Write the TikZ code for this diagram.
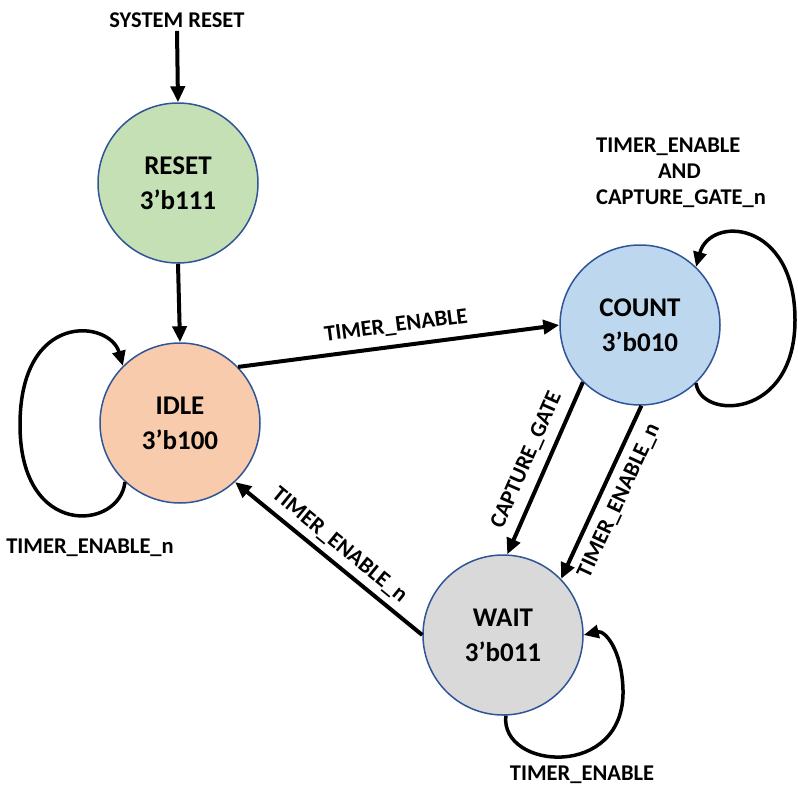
\documentclass[tikz,border=0pt]{standalone}
\usepackage{fontspec}
\setmainfont{Carlito}
\usetikzlibrary{arrows.meta}
\definecolor{stateblue}{HTML}{2F5597}
\definecolor{resetfill}{HTML}{C5E0B4}
\definecolor{idlefill}{HTML}{F8CBAD}
\definecolor{countfill}{HTML}{BDD7EE}
\definecolor{waitfill}{HTML}{D9D9D9}

\begin{document}
\begin{tikzpicture}[x=1pt, y=-1pt, font=\bfseries\fontsize{22.5}{26}\selectfont,
	state/.style={circle,draw=stateblue,line width=1.5pt,minimum size=160pt,inner sep=0pt,align=center,font=\bfseries\fontsize{27}{35}\selectfont},
	trans/.style={line width=4pt,-{Triangle[length=16pt,width=14pt]}},
	translabel/.style={midway,sloped,inner sep=9pt},
	selfloop/.style={line width=3.5pt,-{Triangle[length=15pt,width=13pt]}}]
	\useasboundingbox (0,0) rectangle (798,787);
	\node (sysreset) at (177,20) {SYSTEM RESET};
	\node[state,fill=resetfill] (reset) at (178,183) {RESET\\3’b111};
	\node[state,fill=idlefill] (idle) at (180,423) {IDLE\\3’b100};
	\node[state,fill=countfill] (count) at (640,325) {COUNT\\3’b010};
	\node[state,fill=waitfill] (wait) at (503,635) {WAIT\\3’b011};
	\draw[trans] (sysreset.south) -- (reset.north);
	\draw[trans] (reset.south) -- (idle.north);
	\draw[trans] (idle.44) -- node[translabel,above] {TIMER\_ENABLE} (count.west);
	\draw[trans] (count.225) -- node[translabel,above] {CAPTURE\_GATE} (wait.87);
	\draw[trans] (count.271) -- node[translabel,below] {TIMER\_ENABLE\_n} (wait.44);
	\draw[trans] (wait.west) -- node[translabel,above,inner sep=6pt] {TIMER\_ENABLE\_n} (idle.313);
	% self loops
	\draw[selfloop] (idle.227) .. controls (120,530) and (20,540) .. (20,425) .. controls (20,310) and (110,320) .. (idle.135);
	\node (idleloop) at (90,548) {TIMER\_ENABLE\_n};
	\draw[selfloop] (count.-46) .. controls (700,420) and (795,420) .. (795,320) .. controls (795,220) and (710,215) .. (count.46);
	\node[align=left,anchor=west,inner sep=0pt] (countloop) at (596,173) {TIMER\_ENABLE\\\hspace*{2.75em}AND\\CAPTURE\_GATE\_n};
	\draw[selfloop] (wait.-88) .. controls (500,770) and (625,780) .. (623,690) .. controls (622,650) and (605,630) .. (wait.0);
	\node (waitloop) at (582,775) {TIMER\_ENABLE};
\end{tikzpicture}
\end{document}
